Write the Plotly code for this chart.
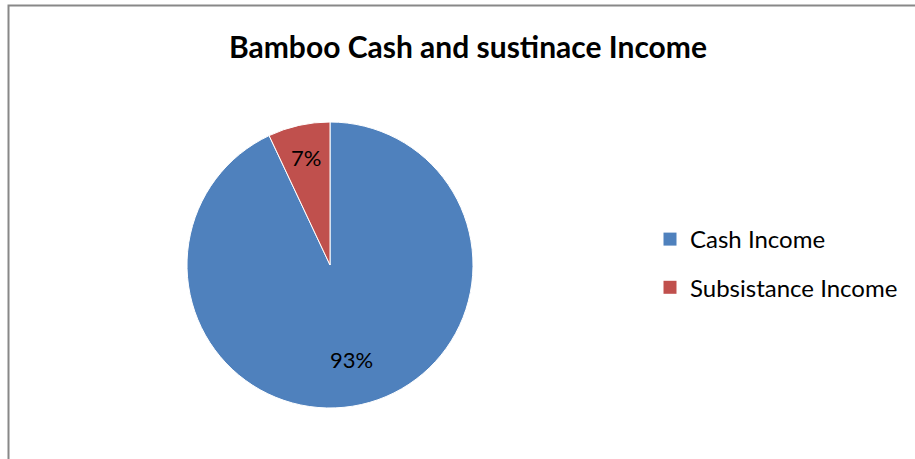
import math
import plotly.graph_objects as go

labels = ["Cash Income", "Subsistance Income"]
values = [93, 7]
colors = ["#4F81BD", "#C0504D"]
title_text = "Bamboo Cash and sustinace Income"

W, H = 915, 459
cx, cy, r = 330, 265, 143
label_radius = [0.68, 0.77]  # fraction of pie radius for the data labels

fig = go.Figure()
fig.add_trace(go.Pie(
    labels=labels,
    values=values,
    sort=False,
    direction="clockwise",
    rotation=0,
    marker=dict(colors=colors, line=dict(color="#FFFFFF", width=1)),
    textinfo="none",
    domain=dict(x=[(cx - r) / W, (cx + r) / W], y=[(H - cy - r) / H, (H - cy + r) / H]),
    hoverinfo="label+percent",
    showlegend=False,
))

# legend entries (one per slice), spaced like the original
for i, (lab, col) in enumerate(zip(labels, colors)):
    fig.add_trace(go.Scatter(
        x=[None], y=[None], mode="markers", name=lab,
        marker=dict(symbol="square", size=13, color=col),
        legendgroup=f"g{i}", showlegend=True,
    ))

# data labels placed at the middle angle of each slice
total = sum(values)
annotations = []
cum = 0.0
for v, rf in zip(values, label_radius):
    mid = (cum + v / 2) / total * 2 * math.pi
    cum += v
    px = cx + rf * r * math.sin(mid)
    py = cy - rf * r * math.cos(mid)
    annotations.append(dict(
        x=px / W, y=1 - py / H, xref="paper", yref="paper",
        text=f"{round(v / total * 100)}%", showarrow=False,
        xanchor="center", yanchor="middle",
        font=dict(family="Lato", size=22, color="#000000"),
    ))

fig.update_layout(
    width=W, height=H,
    margin=dict(l=0, r=0, t=0, b=0),
    paper_bgcolor="#FFFFFF",
    plot_bgcolor="#FFFFFF",
    xaxis=dict(visible=False),
    yaxis=dict(visible=False),
    title=dict(text="<b>" + title_text + "</b>", x=468 / W, xanchor="center",
               y=1 - 47 / H, yanchor="middle",
               font=dict(family="Lato", size=30, color="#000000")),
    legend=dict(x=650 / W, y=1 - 217 / H, xanchor="left", yanchor="top",
                font=dict(family="Lato", size=24, color="#000000"),
                tracegroupgap=14, bgcolor="rgba(0,0,0,0)"),
    annotations=annotations,
    shapes=[dict(type="rect", xref="paper", yref="paper",
                 x0=8.5 / W, x1=1.2, y0=-0.2, y1=1 - 5.5 / H,
                 line=dict(color="#888888", width=2), fillcolor="rgba(0,0,0,0)")],
)

fig.write_html("out.html")
